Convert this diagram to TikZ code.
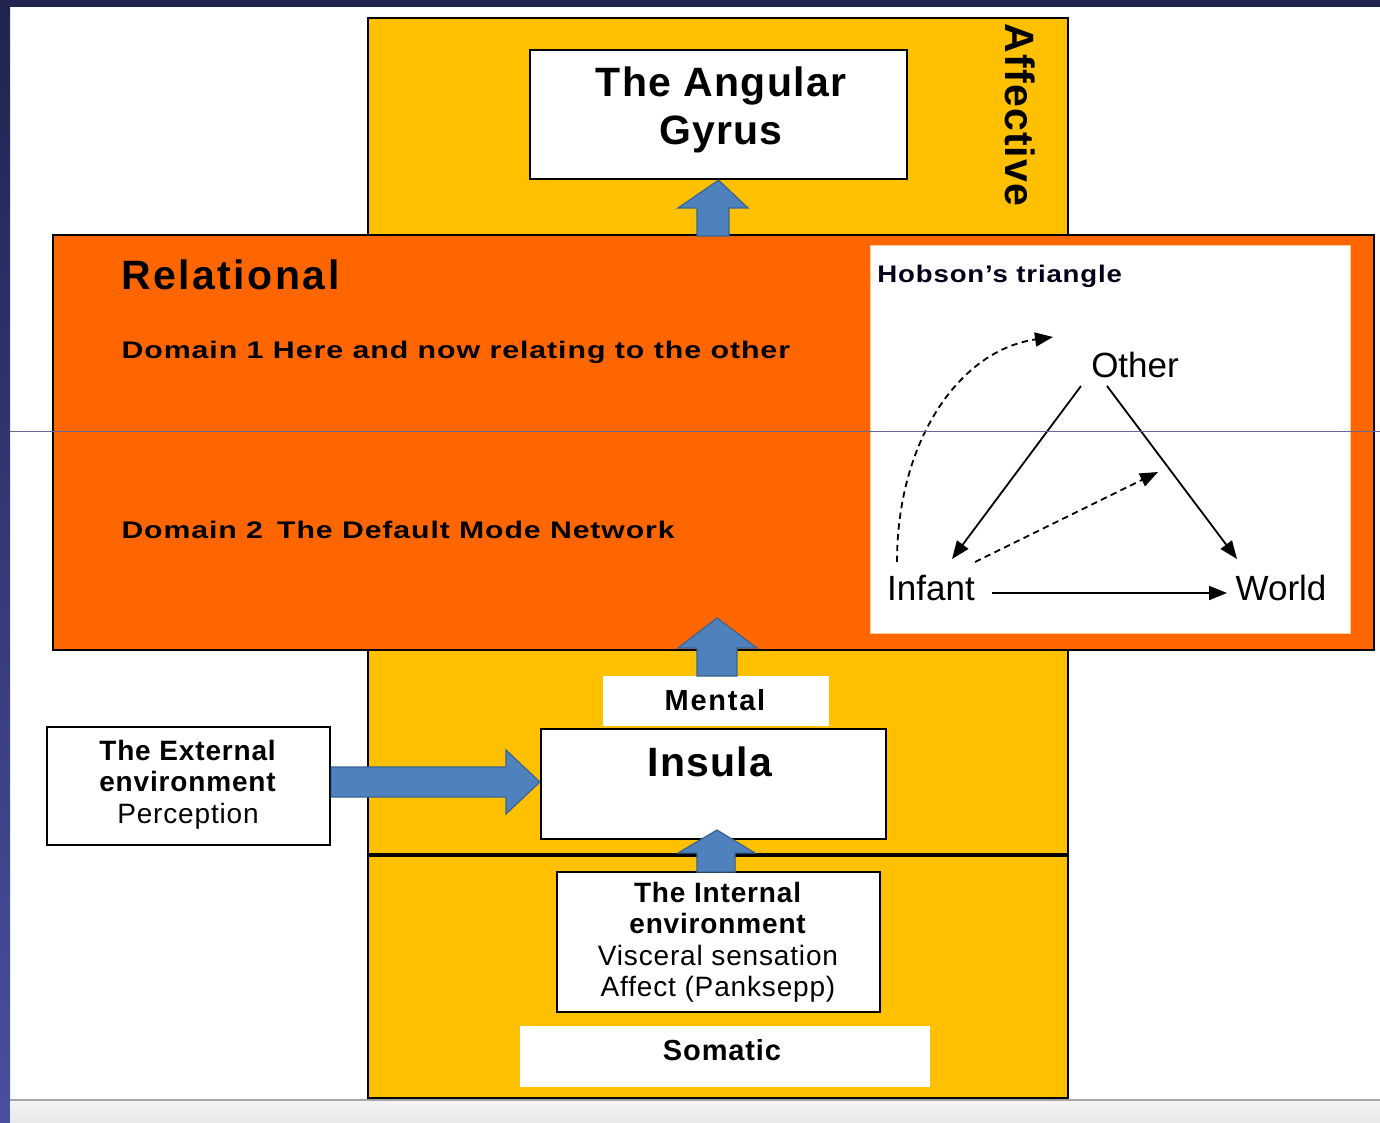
\documentclass[tikz,border=0pt]{standalone}
\usepackage{fontspec}
\setmainfont{Liberation Sans}
\newfontfamily\lsthree[LetterSpace=3]{Liberation Sans}
\newfontfamily\lssix[LetterSpace=6]{Liberation Sans}
\usetikzlibrary{arrows.meta,calc}
\definecolor{ambr}{HTML}{FFC000}
\definecolor{orng}{HTML}{FF6600}
\definecolor{blu}{HTML}{4F81BD}
\definecolor{bluedge}{HTML}{3A6494}
\definecolor{navy}{HTML}{21244F}
\definecolor{navyb}{HTML}{4A4F9E}
\tikzset{
  plainbox/.style={draw=black, line width=1.1pt, fill=white, inner sep=0pt},
  labbox/.style={fill=white, inner sep=0pt},
  bigtxt/.style={font=\fontsize{20.5}{24}\selectfont\lsthree\bfseries, align=center, inner sep=0pt},
  midtxt/.style={font=\fontsize{14}{15.6}\selectfont\lsthree, align=center, inner sep=0pt},
  domtxt/.style={font=\fontsize{12}{14}\selectfont\lsthree\bfseries, inner sep=0pt, xscale=1.265},
  trtxt/.style={font=\fontsize{17.5}{20}\selectfont, inner sep=0pt},
  blockarrow/.style={fill=blu, draw=bluedge, line width=0.6pt},
  tri/.style={line width=0.9pt, -{Triangle[length=9pt,width=7pt]}},
  tridash/.style={tri, dash pattern=on 3.2pt off 2.2pt}
}
\begin{document}
\begin{tikzpicture}[x=0.5pt,y=-0.5pt]
\useasboundingbox (0,0) rectangle (1380,1123);
% frame
\fill[white] (0,0) rectangle (1380,1123);
\fill[navy] (0,0) rectangle (1380,7);
\shade[top color=navy, bottom color=navyb] (0,0) rectangle (10,1123);
\shade[top color=white!92!gray, bottom color=white!82!gray] (10,1100) rectangle (1380,1123);
\draw[gray!70, line width=0.8pt] (10,1100) -- (1380,1100);
% affective column
\node[draw=black, line width=1.1pt, fill=ambr, minimum width=350pt, minimum height=540pt, inner sep=0pt] (affcol) at (718,558) {};
\node[bigtxt, rotate=-90] (afftxt) at (1020,115) {Affective};
% angular gyrus
\node[plainbox, minimum width=188.5pt, minimum height=64.5pt] (gyrus) at (718.5,114.5) {};
\node[bigtxt] (gyrustxt) at (721,110) {The Angular\\Gyrus};
% relational
\node[draw=black, line width=1.1pt, fill=orng, minimum width=660.5pt, minimum height=207.5pt, inner sep=0pt] (relbox) at (713.5,442.5) {};
\node[bigtxt, font=\fontsize{20.5}{24}\selectfont\lssix\bfseries, anchor=base west] (reltxt) at (121,289) {Relational};
\node[domtxt, anchor=base west] (dom1) at (121,358) {Domain 1 Here and now relating to the other};
\node[domtxt, xscale=0.995, anchor=base west] (dom2) at (121,538) {Domain 2\, The Default Mode Network};
% Hobson box
\node[fill=white, draw=orange!40, line width=0.4pt, minimum width=240pt, minimum height=194pt, inner sep=0pt] (hobbox) at (1110,439) {};
\node[font=\fontsize{12}{14}\selectfont\lsthree\bfseries, xscale=1.15, anchor=base west, inner sep=0pt, text=black!90!blue] (hobtxt) at (877,282) {Hobson’s triangle};
\node[trtxt, anchor=base] (other) at (1135,377) {Other};
\node[trtxt, anchor=base] (infant) at (931,600) {Infant};
\node[trtxt, anchor=base] (world) at (1281,600) {World};
\draw[tri] ($(other.base)+(-54,9)$) -- ($(infant.base)+(21,-41)$);
\draw[tri] ($(other.base)+(-28,9)$) -- ($(world.base)+(-44,-41)$);
\draw[tri] ($(infant.base)+(61,-7)$) -- ($(world.base)+(-54,-7)$);
\draw[tridash] ($(infant.base)+(44,-38)$) -- ($(other.base)+(23,95)$);
\coordinate (curvetop) at (1053,337);
\draw[tridash] ($(infant.base)+(-34,-38)$) .. controls (897,440) and (960,350) .. (curvetop);
% arrow up to gyrus
\fill[blockarrow] (697,236) -- (697,208) -- (678,208) -- (gyrus.south) -- (748,208) -- (729,208) -- (729,236) -- cycle;
% mental
\node[labbox, minimum width=113pt, minimum height=25pt] (mental) at (716,701) {};
\node[font=\fontsize{14.5}{16}\selectfont\lssix\bfseries, inner sep=0pt, anchor=base] (mentaltxt) at (715,710) {Mental};
\fill[blockarrow] (697,676) -- (697,648) -- (678,648) -- (717,618) -- (757,648) -- (737,648) -- (737,676) -- cycle;
% thick divider
\draw[line width=2.2pt] (affcol.west |- 0,855) -- (affcol.east |- 0,855);
% insula
\node[plainbox, minimum width=172.5pt, minimum height=55pt] (insula) at (713.5,784) {};
\node[bigtxt, anchor=base] (insulatxt) at (710,776) {Insula};
% external
\node[plainbox, minimum width=141.5pt, minimum height=59pt] (ext) at (188.5,786) {};
\node[midtxt, anchor=north] (exttxt) at (188,740) {\textbf{The External}\\\textbf{environment}\\Perception};
\fill[blockarrow] (ext.east |- 0,767) -- (506,767) -- (506,750) -- (insula.west |- 0,782) -- (506,814) -- (506,797) -- (ext.east |- 0,797) -- cycle;
% internal
\node[plainbox, minimum width=161.5pt, minimum height=70pt] (internal) at (718.5,942) {};
\node[midtxt, anchor=north] (inttxt) at (718,882) {\textbf{The Internal}\\\textbf{environment}\\Visceral sensation\\Affect (Panksepp)};
\fill[blockarrow] (697,872) -- (697,853) -- (678,853) -- (717,830) -- (755,853) -- (735,853) -- (735,872) -- cycle;
% somatic
\node[labbox, minimum width=205pt, minimum height=30.5pt] (somatic) at (725,1056.5) {};
\node[font=\fontsize{14.5}{16}\selectfont\lsthree\bfseries, inner sep=0pt, anchor=base] (somtxt) at (722,1060) {Somatic};
% thin gray scan line
\draw[gray!80!blue, line width=0.5pt] (10,431) -- (1380,431);
\end{tikzpicture}
\end{document}
